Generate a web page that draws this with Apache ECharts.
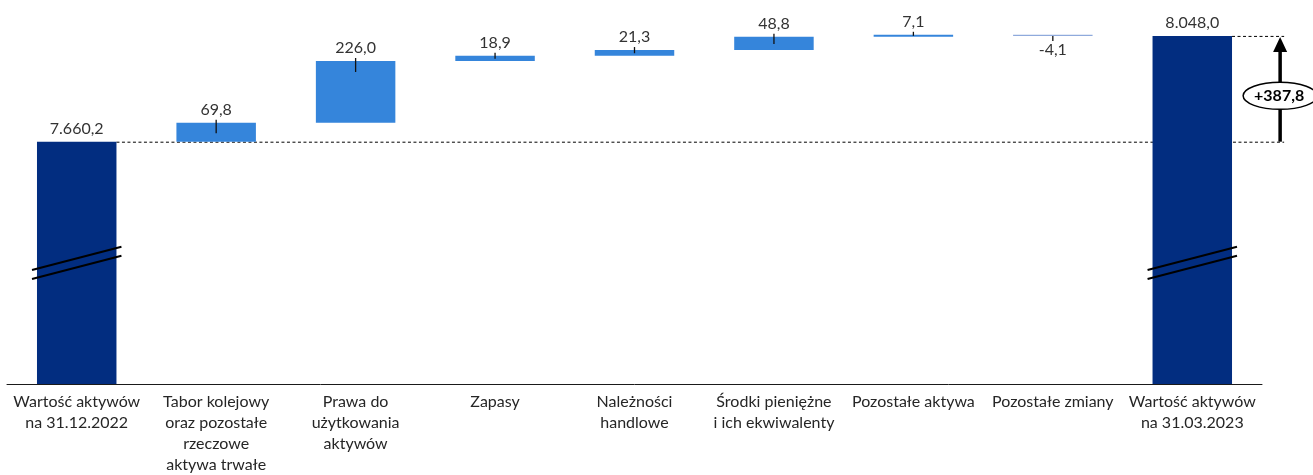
<!DOCTYPE html>
<html>
<head>
<meta charset="utf-8">
<script src="https://cdn.jsdelivr.net/npm/echarts@6/dist/echarts.min.js"></script>
<style>
  html, body { margin: 0; padding: 0; background: #fff; }
  #chart { width: 1313px; height: 475px; }
</style>
</head>
<body>
<div id="chart"></div>
<script>
// Asset value bridge: 31.12.2022 -> 31.03.2023 (mln PLN)
const categories = [
  'Wartość aktywów\nna 31.12.2022',
  'Tabor kolejowy\noraz pozostałe\nrzeczowe\naktywa trwałe',
  'Prawa do\nużytkowania\naktywów',
  'Zapasy',
  'Należności\nhandlowe',
  'Środki pieniężne\ni ich ekwiwalenty',
  'Pozostałe aktywa',
  'Pozostałe zmiany',
  'Wartość aktywów\nna 31.03.2023'
];
const startValue = 7660.2;
const endValue = 8048.0;
const deltas = [69.8, 226.0, 18.9, 21.3, 48.8, 7.1, -4.1];

// Broken value axis: lower bound and the value where the break marks sit
const axisMin = 6772;
const axisMax = 8055;
const breakValue = 7216;

const COLOR_TOTAL = '#022D80';
const COLOR_UP = '#3585DB';
const COLOR_DOWN = '#8FAADC';
const FONT = 'Lato, "Noto Sans", sans-serif';
const BAR_RATIO = 0.57;

// Polish number format: 8.048,0
function fmt(v) {
  const s = Math.abs(v).toFixed(1);
  const parts = s.split('.');
  const intPart = parts[0].replace(/\B(?=(\d{3})+(?!\d))/g, '.');
  return (v < 0 ? '-' : '') + intPart + ',' + parts[1];
}

// Waterfall pieces: invisible offset + visible step
const offsets = [0];
const steps = [startValue];
const shown = [startValue];
let running = startValue;
deltas.forEach(d => {
  offsets.push(d >= 0 ? running : running + d);
  steps.push(Math.abs(d));
  shown.push(d);
  running += d;
});
offsets.push(0);
steps.push(endValue);
shown.push(endValue);

const lastIdx = categories.length - 1;

const stepData = steps.map((v, i) => {
  const isTotal = i === 0 || i === lastIdx;
  const neg = shown[i] < 0;
  const color = isTotal ? COLOR_TOTAL : (neg ? COLOR_DOWN : COLOR_UP);
  return {
    value: v,
    itemStyle: { color: color },
    label: {
      position: neg ? 'bottom' : 'top',
      distance: neg ? 6 : 5
    }
  };
});

const chart = echarts.init(document.getElementById('chart'), null, { renderer: 'canvas' });

function guidesItem(params, api) {
  const band = api.size([1, 0])[0];
  const half = band * BAR_RATIO / 2;
  const p0 = api.coord([0, startValue]);
  const pEnd = api.coord([lastIdx, endValue]);
  const arrowX = pEnd[0] + band * 0.63;
  const dash = { stroke: '#000', lineWidth: 1, lineDash: [3, 2.5] };
  return {
    type: 'group',
    children: [
      { type: 'line', shape: { x1: p0[0] + half, y1: p0[1] + 0.5, x2: arrowX + 4, y2: p0[1] + 0.5 }, style: dash },
      { type: 'line', shape: { x1: pEnd[0] + half, y1: pEnd[1] + 0.5, x2: arrowX + 4, y2: pEnd[1] + 0.5 }, style: dash }
    ]
  };
}

function overlayItem(params, api) {
  const idx = api.value(0);
  const band = api.size([1, 0])[0];
  const half = band * BAR_RATIO / 2;
  const children = [];
  if (idx === 0 || idx === lastIdx) {
    // break marks across the total bars
    const c = api.coord([idx, breakValue]);
    const ext = half + 5;
    const rise = 11.7;
    [-4.5, 4.5].forEach(off => {
      children.push({
        type: 'line',
        shape: { x1: c[0] - ext, y1: c[1] + off + rise, x2: c[0] + ext, y2: c[1] + off - rise },
        style: { stroke: '#000', lineWidth: 2 }
      });
    });
    if (idx === lastIdx) {
      const yS = api.coord([idx, startValue])[1];
      const yE = api.coord([idx, endValue])[1];
      const ax = c[0] + band * 0.63;
      children.push({
        type: 'line',
        shape: { x1: ax, y1: yS, x2: ax, y2: yE + 14 },
        style: { stroke: '#000', lineWidth: 3.5 }
      });
      children.push({
        type: 'polygon',
        shape: { points: [[ax, yE + 1], [ax - 7, yE + 16], [ax + 7, yE + 16]] },
        style: { fill: '#000' }
      });
      const cy = (yS + yE) / 2 + 7;
      children.push({
        type: 'ellipse',
        shape: { cx: ax, cy: cy, rx: 37, ry: 13.5 },
        style: { fill: '#fff', stroke: '#000', lineWidth: 1.5 }
      });
      children.push({
        type: 'text',
        style: {
          x: ax - 1, y: cy,
          text: '+' + fmt(endValue - startValue),
          fill: '#000',
          font: 'bold 16px ' + FONT,
          align: 'center',
          verticalAlign: 'middle'
        }
      });
    }
  } else {
    // small tick at the moving edge of each step
    const d = shown[idx];
    const lo = offsets[idx];
    const hi = lo + steps[idx];
    const yTop = api.coord([idx, hi])[1];
    const yBot = api.coord([idx, lo])[1];
    const x = api.coord([idx, hi])[0];
    const h = yBot - yTop;
    let y1, y2;
    if (d >= 0) {
      y1 = yTop - 3;
      y2 = yTop + Math.min(11, Math.max(1, h * 0.55));
    } else {
      y1 = yBot;
      y2 = yBot + 5;
    }
    children.push({
      type: 'line',
      shape: { x1: x, y1: y1, x2: x, y2: y2 },
      style: { stroke: '#111', lineWidth: 1.3 }
    });
  }
  return { type: 'group', children: children };
}

chart.setOption({
  animation: false,
  backgroundColor: '#fff',
  grid: { left: 7, right: 51, top: 34, bottom: 88, containLabel: false },
  xAxis: {
    type: 'category',
    data: categories,
    axisLine: { show: true, lineStyle: { color: '#1a1a1a', width: 1 } },
    axisTick: { show: false },
    axisLabel: {
      interval: 0,
      margin: 7,
      color: '#262626',
      fontFamily: FONT,
      fontSize: 16,
      lineHeight: 21,
      align: 'center'
    },
    splitLine: { show: false }
  },
  yAxis: {
    type: 'value',
    min: axisMin,
    max: axisMax,
    show: false,
    splitLine: { show: false }
  },
  series: [
    {
      type: 'custom',
      name: 'guides',
      z: 1,
      silent: true,
      renderItem: guidesItem,
      data: [[0]]
    },
    {
      type: 'bar',
      name: 'offset',
      stack: 'bridge',
      z: 2,
      barWidth: (BAR_RATIO * 100) + '%',
      itemStyle: { color: 'transparent' },
      data: offsets,
      silent: true
    },
    {
      type: 'bar',
      name: 'step',
      stack: 'bridge',
      z: 2,
      barWidth: (BAR_RATIO * 100) + '%',
      data: stepData,
      label: {
        show: true,
        color: '#333',
        fontFamily: FONT,
        fontSize: 16,
        formatter: p => fmt(shown[p.dataIndex])
      }
    },
    {
      type: 'custom',
      name: 'overlay',
      z: 5,
      silent: true,
      renderItem: overlayItem,
      data: categories.map((c, i) => [i])
    }
  ]
});
</script>
</body>
</html>
